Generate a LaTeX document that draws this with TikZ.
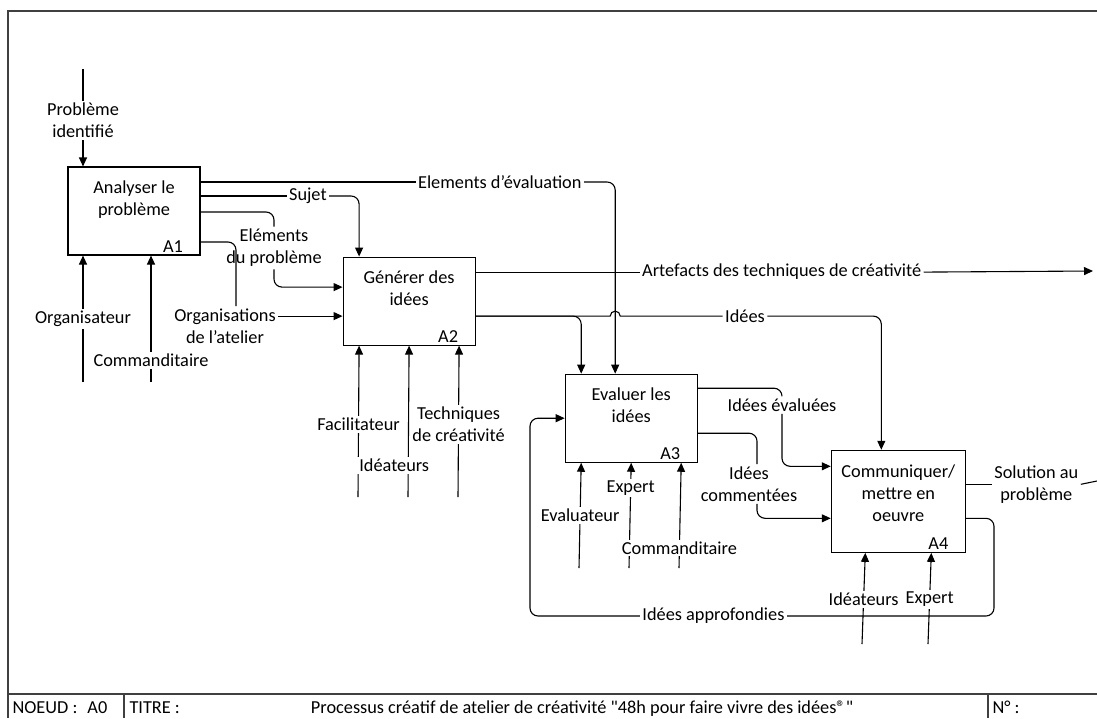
\documentclass[tikz,border=0pt]{standalone}
\usepackage{fontspec}
\setmainfont{Carlito}
\newfontfamily\cartfont{Carlito}[Ligatures=TeXOff]
\usetikzlibrary{positioning, arrows.meta}

\begin{document}
\begin{tikzpicture}[x=1pt, y=-1pt, line width=1.1pt,
every node/.style={font=\fontsize{18.3}{22}\selectfont},
fonction/.style={rectangle, draw, minimum width=132pt, minimum height=88pt, inner sep=0pt},
titre/.style={anchor=north, align=center, inner sep=0pt, yshift=-14pt},
numero/.style={anchor=south east, inner sep=0pt, xshift=-17pt, yshift=3pt},
etiquette/.style={fill=white, inner sep=2pt, align=center},
cartouche/.style={anchor=base west, inner sep=0pt, font=\cartfont\fontsize{18.3}{22}\selectfont},
fleche/.style={-{Triangle[length=9pt, width=8pt]}},
lien/.style={rounded corners=8pt},
cadre/.style={line width=1.5pt, black!75},
]
\useasboundingbox (0,0) rectangle (1097,718);

%Cadre
\draw[cadre] (8,718) -- (8,11) -- (1097,11);
\draw[cadre] (8,694) -- (1097,694);
\draw[cadre] (124,694) -- (124,718);
\draw[cadre] (988,694) -- (988,718);
\node[cartouche]              (cnoeud)  at (12,713)  {NOEUD :\hspace{10pt}A0};
\node[cartouche]              (ctitre)  at (129,713) {TITRE :};
\node[cartouche, anchor=base] (ctexte)  at (582,713) {Processus créatif de atelier de créativité "48h pour faire vivre des idées®"};
\node[cartouche]              (cnum)    at (992,713) {N° :};

%Nodes
\node[fonction]      (A1)      at (134,211)                            {};
\node[fonction]      (A2)      [below right=1pt and 142pt of A1]       {};
\node[fonction]      (A3)      [below right=28pt and 89pt of A2]       {};
\node[fonction, minimum width=134pt, minimum height=102pt] (A4) [below right=-13pt and 133pt of A3] {};

\node[titre]         (A1t)     at (A1.north)       {Analyser le\\problème};
\node[titre]         (A2t)     at (A2.north)       {Générer des\\idées};
\node[titre]         (A3t)     at (A3.north)       {Evaluer les\\idées};
\node[titre]         (A4t)     at (A4.north)       {Communiquer/\\mettre en\\oeuvre};
\node[numero]        (A1n)     at (A1.south east)  {A1};
\node[numero]        (A2n)     at (A2.south east)  {A2};
\node[numero]        (A3n)     at (A3.south east)  {A3};
\node[numero]        (A4n)     at (A4.south east)  {A4};

%Points
\coordinate (A1n1) at ([xshift=-51pt]A1.north);
\coordinate (A1s1) at ([xshift=-51pt]A1.south);
\coordinate (A1s2) at ([xshift=17pt]A1.south);
\coordinate (A1e1) at ([yshift=29pt]A1.east);
\coordinate (A1e2) at ([yshift=15pt]A1.east);
\coordinate (A1e3) at ([yshift=-1pt]A1.east);
\coordinate (A1e4) at ([yshift=-31pt]A1.east);
\coordinate (A2n1) at ([xshift=-50pt]A2.north);
\coordinate (A2w1) at ([yshift=14pt]A2.west);
\coordinate (A2w2) at ([yshift=-15pt]A2.west);
\coordinate (A2e1) at ([yshift=29pt]A2.east);
\coordinate (A2e2) at ([yshift=-15pt]A2.east);
\coordinate (A2s1) at ([xshift=-50pt]A2.south);
\coordinate (A2s2) at (A2.south);
\coordinate (A2s3) at ([xshift=50pt]A2.south);
\coordinate (A3n1) at ([xshift=-50pt]A3.north);
\coordinate (A3n2) at ([xshift=-16pt]A3.north);
\coordinate (A3e1) at ([yshift=30pt]A3.east);
\coordinate (A3e2) at ([yshift=-15pt]A3.east);
\coordinate (A3s1) at ([xshift=-50pt]A3.south);
\coordinate (A3s2) at (A3.south);
\coordinate (A3s3) at ([xshift=50pt]A3.south);
\coordinate (A4n1) at ([xshift=-17pt]A4.north);
\coordinate (A4w1) at ([yshift=35pt]A4.west);
\coordinate (A4w2) at ([yshift=-17pt]A4.west);
\coordinate (A4e1) at ([yshift=17pt]A4.east);
\coordinate (A4e2) at ([yshift=-17pt]A4.east);
\coordinate (A4s1) at ([xshift=-33pt]A4.south);
\coordinate (A4s2) at ([xshift=33pt]A4.south);

\coordinate (entree)  at (83,69);
\coordinate (bA1a)    at (83,382);
\coordinate (bA1b)    at (151,382);
\coordinate (bA2a)    at (358,497);
\coordinate (bA2b)    at (408,497);
\coordinate (bA2c)    at (458,497);
\coordinate (bA3a)    at (579,568);
\coordinate (bA3b)    at (629,568);
\coordinate (bA3c)    at (679,568);
\coordinate (bA4a)    at (862,644);
\coordinate (bA4b)    at (928,644);
\coordinate (sortie1) at (1093,271);
\coordinate (sortie2) at (1097,481);
\coordinate (boucled) at (994,616);
\coordinate (boucleg) at (530,616);
\coordinate (saut)    at (A2e2 -| A3n2);

%Labels
\node[etiquette]     (lsujet)  [right=86pt of A1e2]    {Sujet};
\node[etiquette]     (leval)   [right=215pt of A1e1]   {Elements d’évaluation};
\node[etiquette]     (lelem)   at (274,248)            {Eléments\\du problème};
\node[etiquette]     (lorg)    at (225,326)            {Organisations\\de l’atelier};
\node[etiquette]     (lart)    [right=164pt of A2e1]   {Artefacts des techniques de créativité};
\node[etiquette]     (lidees)  [right=247pt of A2e2]   {Idées};
\node[etiquette]     (lidev)   at (782,405)            {Idées évaluées};
\node[etiquette]     (lcomm)   at (749,484)            {Idées\\commentées};
\node[etiquette]     (lsol)    [right=26pt of A4e1]    {Solution au\\problème};
\node[etiquette]     (lappr)   [left=207pt of boucled] {Idées approfondies};

%Lines
\draw[fleche] (entree) -- node[etiquette, pos=0.53] (lpb) {Problème\\identifié} (A1n1);
\draw[fleche] (bA1a) -- node[etiquette, pos=0.5] (lorga) {Organisateur} (A1s1);
\draw[fleche] (bA1b) -- node[etiquette, pos=0.17] (lcomA1) {Commanditaire} (A1s2);
\draw (A1e1) -- (leval.west);
\draw[fleche, lien] (leval.east) -| (A3n2);
\draw (A1e2) -- (lsujet.west);
\draw[fleche, lien] (lsujet.east) -| (A2n1);
\draw[lien] (A1e3) -| (lelem.north);
\draw[fleche, lien] (lelem.south) |- (A2w1);
\draw[lien] (A1e4) -| ([xshift=11pt]lorg.north);
\draw[fleche] (lorg.east |- A2w2) -- (A2w2);

\draw (A2e1) -- (lart.west);
\draw[fleche] (lart.east) -- (sortie1);
\draw[fleche, lien] (A2e2) -| (A3n1);
\draw (A2e2) -- ([xshift=-5pt]saut) arc[start angle=180, end angle=0, radius=5pt] -- (lidees.west);
\draw[fleche, lien] (lidees.east) -| (A4n1);
\draw[fleche] (bA2a) -- node[etiquette, pos=0.48] (lfac) {Facilitateur} (A2s1);
\draw[fleche] (bA2b) -- node[etiquette, pos=0.21, xshift=-14pt] (lidA2) {Idéateurs} (A2s2);
\draw[fleche] (bA2c) -- node[etiquette, pos=0.48] (ltech) {Techniques\\de créativité} (A2s3);

\draw[lien] (A3e1) -| (lidev.north);
\draw[fleche, lien] (lidev.south) |- (A4w1);
\draw[lien] (A3e2) -| ([xshift=8pt]lcomm.north);
\draw[fleche, lien] ([xshift=8pt]lcomm.south) |- (A4w2);
\draw[fleche] (bA3a) -- node[etiquette, pos=0.5] (leva) {Evaluateur} (A3s1);
\draw[fleche] (bA3b) -- node[etiquette, pos=0.76] (lexpA3) {Expert} (A3s2);
\draw[fleche] (bA3c) -- node[etiquette, pos=0.19] (lcomA3) {Commanditaire} (A3s3);

\draw (A4e1) -- (lsol.west);
\draw (lsol.east) -- (sortie2);
\draw[lien] (A4e2) -| (boucled) -- (lappr.east);
\draw[fleche, lien] (lappr.west) -- (boucleg) |- (A3.west);
\draw[fleche] (bA4a) -- node[etiquette, pos=0.49] (lidA4) {Idéateurs} (A4s1);
\draw[fleche] (bA4b) -- node[etiquette, pos=0.49] (lexpA4) {Expert} (A4s2);

\end{tikzpicture}
\end{document}
